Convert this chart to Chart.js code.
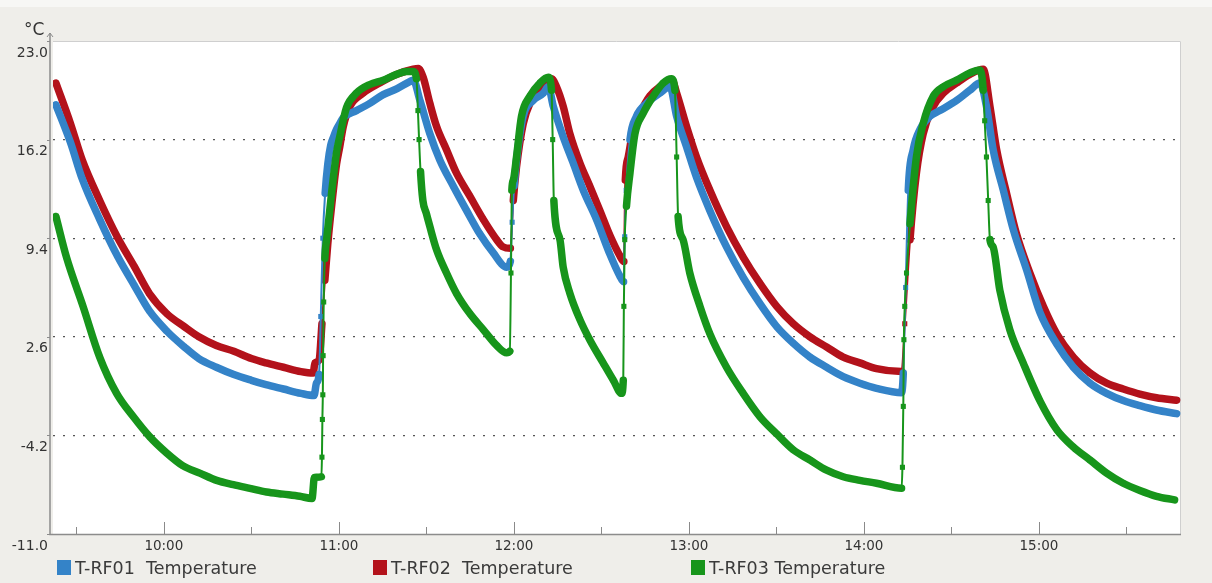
<!DOCTYPE html>
<html>
<head>
<meta charset="utf-8">
<script src="https://cdn.jsdelivr.net/npm/chart.js@4.4.1/dist/chart.umd.min.js"></script>
<style>
	html, body { margin: 0; padding: 0; background: #efeeea; overflow: hidden; }
	#wrap { position: relative; width: 1212px; height: 583px; }
	#legend .item {
		position: absolute;
		top: 558px;
		height: 19px;
		display: flex;
		align-items: center;
		font-family: 'DejaVu Sans', sans-serif;
		font-size: 17.5px;
		color: #3a3a3a;
		white-space: pre;
	}
	#legend .box { width: 14px; height: 15px; margin-right: 4px; }
</style>
</head>
<body>
<div id="wrap">
	<canvas id="chart"></canvas>
	<div id="legend"></div>
</div>
<script>
// time = minutes since midnight, temperature in °C
const seriesNames = ['T-RF01  Temperature', 'T-RF02  Temperature', 'T-RF03 Temperature'];

const rf01Time = [563, 568, 572, 578, 584, 590, 595, 601, 607, 612, 618, 624, 630, 635, 641, 647, 651.5, 652.3, 653.2, 653.8, 654.5, 655.3, 656.2, 657.2, 658.2, 659.2, 660.3, 661.5, 666, 670.6, 675.2, 679.8, 684.3, 685.5, 687.8, 691.2, 694.6, 699.2, 703.8, 708.3, 712.9, 717.5, 718.8, 719.4, 720.1, 720.9, 723.2, 726.6, 730.1, 731.8, 733.5, 736.9, 740.3, 743.8, 748.3, 752.9, 756.3, 757.6, 758, 758.5, 759.8, 762, 765.5, 770, 773.5, 775.8, 779.2, 782.6, 787.2, 792.9, 798.6, 804.3, 810.1, 815.8, 821.5, 827.2, 832.9, 838.6, 844.3, 852.9, 853.5, 854.3, 855.2, 856.9, 859.2, 862.6, 866, 871.8, 876.3, 879.8, 882, 884.3, 887.8, 891.2, 895.8, 900.3, 906.1, 911.8, 917.5, 923.2, 928.9, 934.6, 940.3, 947.2];
const rf01Temp = [18.6, 16.0, 13.5, 10.7, 8.2, 6.1, 4.4, 3.0, 1.9, 1.1, 0.5, 0.0, -0.4, -0.7, -1.0, -1.3, -1.45, -0.6, 0.0, 4.0, 9.4, 12.5, 14.5, 15.8, 16.4, 16.9, 17.3, 17.7, 18.2, 18.7, 19.3, 19.7, 20.2, 20.3, 18.9, 16.6, 14.8, 13.0, 11.3, 9.7, 8.4, 7.4, 7.8, 10.5, 13.0, 14.8, 17.8, 18.9, 19.4, 19.85, 18.5, 16.4, 14.6, 12.7, 10.7, 8.3, 6.8, 6.4, 9.5, 12.7, 16.2, 17.8, 18.7, 19.4, 19.85, 17.8, 15.7, 13.6, 11.3, 8.8, 6.7, 4.9, 3.3, 2.15, 1.2, 0.5, -0.15, -0.6, -0.95, -1.25, 0.1, 6.0, 12.7, 15.5, 16.9, 17.8, 18.2, 18.9, 19.6, 20.1, 18.5, 15.5, 12.7, 10.0, 7.2, 4.3, 2.1, 0.5, -0.6, -1.3, -1.8, -2.15, -2.45, -2.7];

const rf02Time = [563, 568, 572, 578, 584, 590, 595, 601, 607, 612, 618, 624, 630, 635, 641, 647, 651.2, 651.8, 653.2, 654.2, 655.2, 656.2, 657.5, 659.2, 660.3, 661.5, 663.8, 668.3, 674, 679.8, 685.5, 687.2, 688.9, 691.2, 693.5, 696.9, 700.3, 704.9, 709.5, 714.1, 716.3, 718.8, 719.8, 720.9, 723.2, 725.5, 728.9, 732.3, 732.9, 734.6, 736.9, 739.2, 742.6, 746, 749.5, 752.9, 756.3, 757.7, 758.2, 759.2, 760.9, 763.2, 766.6, 770, 773.5, 774.2, 775.8, 779.2, 782.6, 787.2, 792.9, 798.6, 804.3, 810.1, 815.8, 821.5, 827.2, 832.9, 838.6, 844.3, 852.9, 854, 855.8, 858, 860.3, 863.8, 867.2, 871.8, 876.3, 880.9, 883.2, 885.5, 888.9, 892.3, 896.9, 901.5, 906.1, 911.8, 917.5, 923.2, 928.9, 934.6, 940.3, 947.2];
const rf02Temp = [20.1, 17.3, 14.8, 12.0, 9.5, 7.4, 5.6, 4.2, 3.3, 2.6, 2.0, 1.6, 1.1, 0.8, 0.5, 0.2, 0.1, 0.8, 1.0, 3.5, 6.5, 9.0, 11.6, 14.5, 15.7, 17.1, 18.5, 19.4, 20.1, 20.7, 21.05, 21.1, 20.5, 18.7, 17.1, 15.5, 13.9, 12.3, 10.7, 9.3, 8.8, 8.7, 12.0, 14.3, 17.3, 18.7, 19.6, 20.3, 20.4, 19.85, 18.5, 16.6, 14.6, 13.0, 11.3, 9.6, 8.2, 7.8, 13.4, 15.0, 16.9, 18.0, 19.2, 19.85, 20.2, 20.3, 19.4, 17.1, 15.0, 12.7, 10.2, 8.1, 6.3, 4.7, 3.5, 2.6, 1.9, 1.2, 0.8, 0.4, 0.2, 3.5, 9.3, 13.9, 16.6, 18.5, 19.4, 20.1, 20.7, 21.05, 18.5, 15.5, 12.5, 9.7, 7.0, 4.7, 2.8, 1.2, 0.1, -0.6, -1.0, -1.35, -1.6, -1.77];

const rf03Time = [563, 566.6, 572.3, 578, 583.8, 589.5, 595.2, 600.9, 606.6, 612.3, 618.1, 623.8, 629.5, 635.2, 640.9, 646.6, 650.8, 651.6, 654, 654.2, 654.35, 654.5, 654.6, 654.8, 655.2, 655.8, 657.5, 659.2, 660.3, 662.6, 666, 670.6, 675.2, 679.8, 683.2, 685.5, 686.6, 687.1, 687.5, 688, 688.8, 690, 691.2, 693.5, 696.9, 700.3, 704.9, 709.5, 714.1, 717.5, 718.6, 719, 719.3, 719.8, 720.9, 722.6, 725.5, 728.9, 731.8, 732.9, 733.3, 733.7, 735.8, 736.9, 739.2, 742.6, 746, 750.6, 754.1, 756.9, 757.5, 757.7, 758, 758.6, 759.8, 761.5, 764.3, 767.8, 771.2, 774, 775.2, 775.8, 776.3, 778, 780.3, 783.8, 787.2, 792.9, 798.6, 804.3, 810.1, 815.8, 821.5, 827.2, 832.9, 838.6, 844.3, 852.9, 853.2, 853.5, 853.7, 854, 854.6, 855.8, 858, 860.3, 863.8, 867.2, 871.8, 876.3, 879.8, 880.9, 881.4, 882, 882.6, 883.2, 884.3, 886.6, 890, 894.6, 900.3, 906.1, 911.8, 917.5, 923.2, 928.9, 934.6, 940.3, 946.5];
const rf03Temp = [10.9, 8.1, 4.7, 1.2, -1.3, -2.9, -4.3, -5.4, -6.3, -6.8, -7.3, -7.6, -7.85, -8.1, -8.25, -8.4, -8.55, -7.1, -7.05, -5.7, -3.1, -1.4, 1.3, 5.0, 8.0, 9.3, 12.5, 15.3, 16.4, 18.4, 19.4, 20.0, 20.3, 20.7, 20.9, 20.9, 20.4, 18.2, 16.2, 14.0, 12.0, 11.1, 10.2, 8.6, 7.0, 5.6, 4.2, 3.1, 2.0, 1.5, 1.6, 7.0, 12.7, 13.4, 15.0, 17.8, 19.2, 20.1, 20.5, 19.6, 16.2, 12.0, 9.3, 7.4, 5.6, 3.8, 2.4, 0.8, -0.4, -1.3, -0.4, 4.7, 9.3, 11.6, 13.9, 16.6, 18.0, 19.2, 20.1, 20.4, 19.6, 15.0, 10.9, 9.3, 7.0, 4.7, 2.8, 0.5, -1.3, -2.9, -4.1, -5.2, -5.9, -6.6, -7.05, -7.3, -7.5, -7.85, -6.4, -2.2, 2.4, 4.7, 7.0, 10.4, 15.0, 17.3, 19.2, 19.85, 20.3, 20.8, 21.0, 19.6, 17.5, 15.0, 12.0, 9.3, 8.8, 5.8, 3.1, 0.8, -1.8, -3.8, -5.0, -5.9, -6.8, -7.5, -8.0, -8.4, -8.65];

const yTicks = [-11, -4.2, 2.6, 9.4, 16.2, 23];
const xTicks = [570, 600, 630, 660, 690, 720, 750, 780, 810, 840, 870, 900, 930];

const colors = ['#3483c8', '#b3121b', '#17951b'];
const legendLeft = [57, 373, 691];

Chart.defaults.font.family = "'DejaVu Sans', sans-serif";

function toPoints(times, temps) {
	return times.map((t, i) => ({ x: t, y: temps[i] }));
}

function fmtTime(m) {
	const h = Math.floor(m / 60);
	const mm = Math.round(m % 60);
	return `${h}:${mm < 10 ? '0' : ''}${mm}`;
}

// steep sample-to-sample jumps are drawn thin, like the logger software does
function segWidth(ctx) {
	const dx = Math.abs(ctx.p1.x - ctx.p0.x);
	const dy = Math.abs(ctx.p1.y - ctx.p0.y);
	return dy > 9 * dx + 10 ? 2 : 7.5;
}

function makeDataset(label, times, temps, color, order) {
	return {
		label,
		data: toPoints(times, temps),
		borderColor: color,
		backgroundColor: color,
		pointBackgroundColor: color,
		pointBorderWidth: 0,
		pointStyle: 'rect',
		pointRadius: 3.6,
		borderWidth: 7.5,
		borderJoinStyle: 'round',
		borderCapStyle: 'round',
		cubicInterpolationMode: 'monotone',
		segment: { borderWidth: segWidth },
		order,
	};
}

const framePlugin = {
	id: 'frame',
	beforeDraw(chart) {
		const { ctx, chartArea: a } = chart;
		ctx.save();
		ctx.fillStyle = '#efeeea';
		ctx.fillRect(0, 0, chart.width, chart.height);
		ctx.fillStyle = '#f7f7f5';
		ctx.fillRect(0, 0, chart.width, 7);
		ctx.fillStyle = '#ffffff';
		ctx.fillRect(a.left, a.top, a.right - a.left, a.bottom - a.top);
		ctx.strokeStyle = '#cfcfcf';
		ctx.lineWidth = 1;
		ctx.beginPath();
		ctx.moveTo(a.left, a.top + 0.5);
		ctx.lineTo(a.right - 0.5, a.top + 0.5);
		ctx.lineTo(a.right - 0.5, a.bottom);
		ctx.stroke();
		ctx.restore();
	},
	beforeDatasetsDraw(chart) {
		const { ctx, chartArea: a, scales } = chart;
		ctx.save();
		ctx.strokeStyle = '#8a8a8a';
		ctx.lineWidth = 1;
		scales.x.ticks.forEach((t) => {
			const px = Math.round(scales.x.getPixelForValue(t.value)) + 0.5;
			const len = t.value % 60 === 0 ? 12 : 7;
			ctx.beginPath();
			ctx.moveTo(px, a.bottom);
			ctx.lineTo(px, a.bottom - len);
			ctx.stroke();
		});
		ctx.restore();
	},
	afterDraw(chart) {
		const { ctx, chartArea: a, scales } = chart;
		const ax = a.left - 3;
		ctx.save();
		ctx.strokeStyle = '#8c8c8c';
		ctx.lineWidth = 1.5;
		ctx.beginPath();
		ctx.moveTo(ax, a.top - 8);
		ctx.lineTo(ax, a.bottom + 0.5);
		ctx.lineTo(a.right, a.bottom + 0.5);
		ctx.stroke();
		ctx.lineWidth = 1;
		ctx.beginPath();
		ctx.moveTo(ax - 3, a.top - 4);
		ctx.lineTo(ax, a.top - 8);
		ctx.lineTo(ax + 3, a.top - 4);
		ctx.stroke();
		scales.y.ticks.forEach((t) => {
			const py = Math.round(scales.y.getPixelForValue(t.value)) + 0.5;
			ctx.beginPath();
			ctx.moveTo(ax - 3, py);
			ctx.lineTo(ax, py);
			ctx.stroke();
		});
		ctx.fillStyle = '#333';
		ctx.font = "17px 'DejaVu Sans', sans-serif";
		ctx.textBaseline = 'alphabetic';
		ctx.fillText('°C', 24, 35);
		ctx.restore();
	},
};

const chart = new Chart(document.getElementById('chart'), {
	type: 'line',
	data: {
		datasets: [
			makeDataset(seriesNames[0], rf01Time, rf01Temp, colors[0], 1),
			makeDataset(seriesNames[1], rf02Time, rf02Temp, colors[1], 2),
			makeDataset(seriesNames[2], rf03Time, rf03Temp, colors[2], 0),
		],
	},
	options: {
		responsive: true,
		maintainAspectRatio: false,
		animation: false,
		events: [],
		layout: { padding: { top: 41, right: 31, left: 0, bottom: 0 } },
		plugins: {
			legend: { display: false },
			tooltip: { enabled: false },
		},
		scales: {
			x: {
				type: 'linear',
				min: 562,
				max: 948.7,
				afterBuildTicks: (scale) => {
					scale.ticks = xTicks.map((v) => ({ value: v }));
				},
				afterFit: (scale) => {
					scale.height = 49;
				},
				grid: { display: false, drawTicks: false },
				border: { display: false },
				ticks: {
					autoSkip: false,
					maxRotation: 0,
					padding: 4,
					color: '#333',
					font: { size: 13.5 },
					callback: (v) => (v % 60 === 0 ? fmtTime(v) : ''),
				},
			},
			y: {
				min: -11,
				max: 23,
				afterBuildTicks: (scale) => {
					scale.ticks = yTicks.map((v) => ({ value: v }));
				},
				afterFit: (scale) => {
					scale.width = 53;
				},
				grid: {
					drawTicks: false,
					lineWidth: 1.3,
					color: (ctx) => (ctx.tick && (ctx.tick.value === -11 || ctx.tick.value === 23) ? 'rgba(0,0,0,0)' : '#555'),
				},
				border: { display: false, dash: [2, 8] },
				ticks: {
					padding: 5,
					labelOffset: 12,
					color: '#333',
					font: { size: 14 },
					callback: (v) => v.toFixed(1),
				},
			},
		},
	},
	plugins: [framePlugin],
});

const legendEl = document.getElementById('legend');
seriesNames.forEach((name, i) => {
	legendEl.insertAdjacentHTML(
		'beforeend',
		`<div class="item" style="left:${legendLeft[i]}px"><span class="box" style="background:${colors[i]}"></span>${name}</div>`
	);
});
</script>
</body>
</html>
